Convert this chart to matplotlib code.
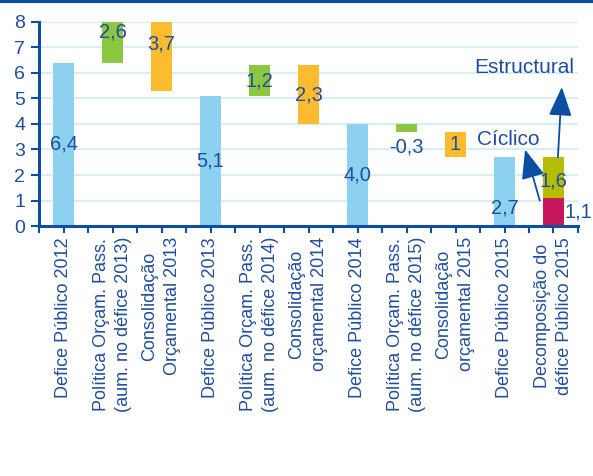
import numpy as np
import matplotlib.pyplot as plt
from matplotlib.lines import Line2D

plt.rcParams['font.family'] = ['Liberation Sans', 'DejaVu Sans']

# categories (x tick labels)
categories = [
    "Defice Público 2012",
    "Política Orçam. Pass.\n(aum. no défice 2013)",
    "Consolidação\nOrçamental 2013",
    "Defice Público 2013",
    "Política Orçam. Pass.\n(aum. no défice 2014)",
    "Consolidação\norçamental 2014",
    "Defice Público 2014",
    "Política Orçam. Pass.\n(aum. no défice 2015)",
    "Consolidação\norçamental 2015",
    "Defice Público 2015",
    "Decomposição do\ndéfice Público 2015",
]

# waterfall bars: bottom and height
bottoms = [0, 6.4, 5.3, 0, 5.1, 4.0, 0, 3.7, 2.7, 0]
heights = [6.4, 2.6, 3.7, 5.1, 1.2, 2.3, 4.0, 0.3, 1.0, 2.7]
labels = ["6,4", "2,6", "3,7", "5,1", "1,2", "2,3", "4,0", "-0,3", "1", "2,7"]
kinds = ["total", "up", "down", "total", "up", "down", "total", "up", "down", "total"]

# decomposition of 2015 deficit
ciclico = 1.1
estrutural = 1.6

c_total = "#8DD1F1"
c_up = "#8DC63F"
c_down = "#FDBB30"
c_estr = "#B5BD00"
c_cicl = "#C8175D"
c_text = "#1F4E9E"
c_axis = "#0B4EA2"
c_grid = "#CDEBF7"
colors = {"total": c_total, "up": c_up, "down": c_down}

fig = plt.figure(figsize=(5.93, 4.76), dpi=100)
ax = fig.add_axes([0.0658, 0.5252, 0.9089, 0.4286])

x = np.arange(len(categories))
w = 0.41
for i in range(len(bottoms)):
    ax.bar(x[i], heights[i], w, bottom=bottoms[i], color=colors[kinds[i]], zorder=2)
ax.bar(x[10], ciclico, w, color=c_cicl, zorder=2)
ax.bar(x[10], estrutural, w, bottom=ciclico, color=c_estr, zorder=2)

# data labels (mid of bar, some moved)
label_y = [b + h / 2 for b, h in zip(bottoms, heights)]
label_y[1] = 7.6
label_y[7] = 3.1
label_y[9] = 0.7
for i, t in enumerate(labels):
    ax.text(x[i], label_y[i], t, ha="center", va="center", fontsize=14.5,
            color=c_text, zorder=4, clip_on=False)
ax.text(x[10], ciclico + estrutural / 2 - 0.15, "1,6", ha="center", va="center",
        fontsize=14.5, color=c_text, zorder=4)
ax.text(x[10] + w / 2 + 0.02, ciclico / 2, "1,1", ha="left", va="center",
        fontsize=14.5, color=c_text, zorder=4, clip_on=False)

# annotations
arrow = dict(arrowstyle="-|>,head_length=1.5,head_width=0.6", color=c_axis,
             lw=1.3, shrinkA=0, shrinkB=0, mutation_scale=12)
ax.annotate("", xy=(9.42, 3.0), xytext=(9.72, 1.0), arrowprops=arrow, zorder=5)
ax.text(9.07, 3.4, "Cíclico", ha="center", va="center", fontsize=15, color=c_text)
ax.annotate("", xy=(10.17, 5.45), xytext=(10.09, 2.7), arrowprops=arrow, zorder=5)
ax.text(9.4, 6.2, "Estructural", ha="center", va="center", fontsize=15, color=c_text)

ax.set_xlim(-0.5, 10.5)
ax.set_ylim(0, 8)
ax.set_yticks(range(9))
ax.yaxis.grid(True, color=c_grid, lw=1.2, zorder=0)
ax.set_axisbelow(True)

ax.set_xticks(x)
ax.set_xticklabels(categories, rotation=90, ha="center", va="top",
                   multialignment="center", fontsize=13, color=c_text,
                   linespacing=1.45)
ax.set_xticks(np.arange(-0.5, 11, 1), minor=True)
ax.tick_params(axis="x", which="both", length=5, width=1.5, color=c_axis, pad=3)
ax.tick_params(axis="y", length=6, width=1.5, color=c_axis, labelsize=14,
               labelcolor=c_text, pad=4)

for s in ["top", "right"]:
    ax.spines[s].set_visible(False)
for s in ["left", "bottom"]:
    ax.spines[s].set_color(c_axis)
    ax.spines[s].set_linewidth(2.2)

# dark line at the top of the figure
fig.add_artist(Line2D([0, 1], [0.998, 0.998], transform=fig.transFigure,
                      color=c_axis, lw=3))

fig.savefig("out.png", dpi=100)
